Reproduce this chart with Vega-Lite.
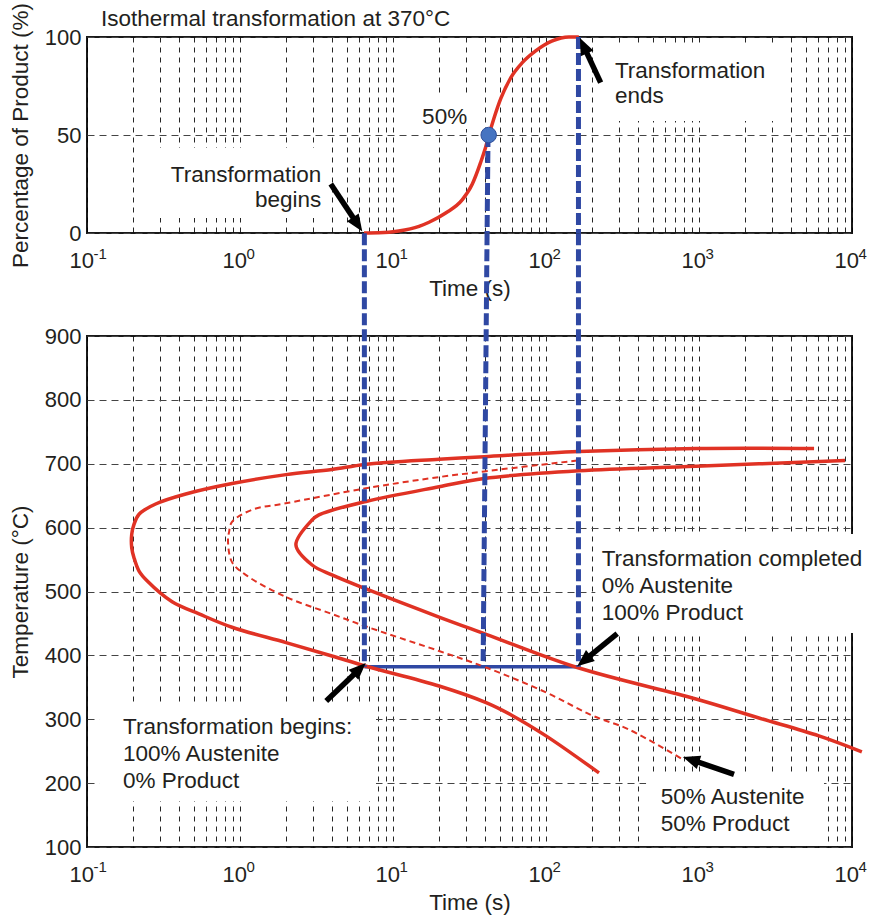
{
  "$schema": "https://vega.github.io/schema/vega-lite/v6.json",
  "background": "white",
  "padding": {"left": 8, "top": 1, "right": 0, "bottom": 5},
  "bounds": "flush",
  "spacing": 103,
  "config": {
    "font": "Liberation Sans",
    "view": {"stroke": "#1a1a1a", "strokeWidth": 2},
    "axis": {
      "labelFontSize": 22, "titleFontSize": 22.5, "labelColor": "#231f20", "titleColor": "#231f20",
      "titleFontWeight": "normal", "grid": true, "ticks": false, "domain": false,
      "labelFlush": false, "labelOverlap": false, "labelBound": false
    },
    "axisX": {"gridDash": [5, 5], "gridColor": "#000", "gridOpacity": 0.85, "gridWidth": 1, "labelPadding": 17, "titlePadding": 6, "labelAlign": "right", "labelOffset": 6.5},
    "axisY": {"gridDash": [7, 5], "gridColor": "#444", "gridWidth": 1, "labelPadding": 6, "titlePadding": 12}
  },
  "datasets": {
    "pct": [
      {"i": 0, "t": 6.46, "v": 0}, {"i": 1, "t": 8.1, "v": 0.1}, {"i": 2, "t": 10.9, "v": 1},
      {"i": 3, "t": 14.8, "v": 3.4}, {"i": 4, "t": 17.2, "v": 5.5}, {"i": 5, "t": 22.1, "v": 10.2},
      {"i": 6, "t": 28.4, "v": 17}, {"i": 7, "t": 33.0, "v": 25}, {"i": 8, "t": 37.4, "v": 36},
      {"i": 9, "t": 40.4, "v": 44}, {"i": 10, "t": 42.4, "v": 50}, {"i": 11, "t": 45.7, "v": 58.5},
      {"i": 12, "t": 50.6, "v": 68.5}, {"i": 13, "t": 58.8, "v": 79.2}, {"i": 14, "t": 70.0, "v": 86.9},
      {"i": 15, "t": 85.6, "v": 92.9}, {"i": 16, "t": 110, "v": 98}, {"i": 17, "t": 141, "v": 100},
      {"i": 18, "t": 164, "v": 100}
    ],
    "ttt": [
      {"curve": "start", "i": 0, "t": 5650, "v": 724}, {"curve": "start", "i": 1, "t": 955, "v": 724},
      {"curve": "start", "i": 2, "t": 164, "v": 719}, {"curve": "start", "i": 3, "t": 39.4, "v": 711},
      {"curve": "start", "i": 4, "t": 20, "v": 707}, {"curve": "start", "i": 5, "t": 6.53, "v": 699},
      {"curve": "start", "i": 6, "t": 3.99, "v": 691}, {"curve": "start", "i": 7, "t": 2.0, "v": 683},
      {"curve": "start", "i": 8, "t": 0.887, "v": 669}, {"curve": "start", "i": 9, "t": 0.442, "v": 652.6},
      {"curve": "start", "i": 10, "t": 0.281, "v": 637}, {"curve": "start", "i": 11, "t": 0.2188, "v": 621},
      {"curve": "start", "i": 12, "t": 0.2028, "v": 605}, {"curve": "start", "i": 13, "t": 0.196, "v": 589.5},
      {"curve": "start", "i": 14, "t": 0.196, "v": 568.6}, {"curve": "start", "i": 15, "t": 0.2028, "v": 553},
      {"curve": "start", "i": 16, "t": 0.2188, "v": 532}, {"curve": "start", "i": 17, "t": 0.2478, "v": 516.4},
      {"curve": "start", "i": 18, "t": 0.36, "v": 484}, {"curve": "start", "i": 19, "t": 0.54, "v": 465},
      {"curve": "start", "i": 20, "t": 0.887, "v": 444}, {"curve": "start", "i": 21, "t": 2.0, "v": 420},
      {"curve": "start", "i": 22, "t": 3.99, "v": 399}, {"curve": "start", "i": 23, "t": 6.67, "v": 383},
      {"curve": "start", "i": 24, "t": 20, "v": 352}, {"curve": "start", "i": 25, "t": 40.6, "v": 326},
      {"curve": "start", "i": 26, "t": 60, "v": 306}, {"curve": "start", "i": 27, "t": 100, "v": 274},
      {"curve": "start", "i": 28, "t": 222, "v": 216},
      {"curve": "finish", "i": 0, "t": 9000, "v": 705}, {"curve": "finish", "i": 1, "t": 955, "v": 696},
      {"curve": "finish", "i": 2, "t": 164, "v": 689}, {"curve": "finish", "i": 3, "t": 39.4, "v": 677},
      {"curve": "finish", "i": 4, "t": 20, "v": 664}, {"curve": "finish", "i": 5, "t": 6.67, "v": 641},
      {"curve": "finish", "i": 6, "t": 3.28, "v": 620}, {"curve": "finish", "i": 7, "t": 2.96, "v": 612},
      {"curve": "finish", "i": 8, "t": 2.32, "v": 573}, {"curve": "finish", "i": 9, "t": 2.96, "v": 541.5},
      {"curve": "finish", "i": 10, "t": 3.99, "v": 526}, {"curve": "finish", "i": 11, "t": 6.67, "v": 504},
      {"curve": "finish", "i": 12, "t": 20, "v": 460}, {"curve": "finish", "i": 13, "t": 40.6, "v": 433},
      {"curve": "finish", "i": 14, "t": 160, "v": 381}, {"curve": "finish", "i": 15, "t": 955, "v": 331.7},
      {"curve": "finish", "i": 16, "t": 2466, "v": 302}, {"curve": "finish", "i": 17, "t": 6080, "v": 274},
      {"curve": "finish", "i": 18, "t": 11600, "v": 249},
      {"curve": "half", "i": 0, "t": 160, "v": 705}, {"curve": "half", "i": 1, "t": 39.4, "v": 688},
      {"curve": "half", "i": 2, "t": 17.2, "v": 677}, {"curve": "half", "i": 3, "t": 6.64, "v": 661.5},
      {"curve": "half", "i": 4, "t": 1.99, "v": 638}, {"curve": "half", "i": 5, "t": 1.2, "v": 628},
      {"curve": "half", "i": 6, "t": 0.887, "v": 609}, {"curve": "half", "i": 7, "t": 0.848, "v": 593},
      {"curve": "half", "i": 8, "t": 0.835, "v": 578}, {"curve": "half", "i": 9, "t": 0.887, "v": 546},
      {"curve": "half", "i": 10, "t": 1.09, "v": 526}, {"curve": "half", "i": 11, "t": 2.0, "v": 491.4},
      {"curve": "half", "i": 12, "t": 3.99, "v": 464.8}, {"curve": "half", "i": 13, "t": 6.67, "v": 445.2},
      {"curve": "half", "i": 14, "t": 20, "v": 406.9}, {"curve": "half", "i": 15, "t": 40.6, "v": 381},
      {"curve": "half", "i": 16, "t": 100, "v": 342}, {"curve": "half", "i": 17, "t": 200, "v": 306},
      {"curve": "half", "i": 18, "t": 348, "v": 284}, {"curve": "half", "i": 19, "t": 798, "v": 236}
    ],
    "topBoxes": [
      {"t": 0.254, "t2": 3.67, "v": 43.4, "v2": 7.7},
      {"t": 14.4, "t2": 31.4, "v": 70.9, "v2": 53.1},
      {"t": 251, "t2": 3090, "v": 95.4, "v2": 57.1}
    ],
    "bottomBoxes": [
      {"t": 0.12, "t2": 7.74, "v": 325, "v2": 172},
      {"t": 210, "t2": 13500, "v": 590, "v2": 435},
      {"t": 451, "t2": 6560, "v": 213, "v2": 103}
    ],
    "topBlue": [
      {"t": 41.8, "v": 50, "t2": 41.2, "v2": 0},
      {"t": 163, "v": 100, "t2": 163, "v2": 0}
    ],
    "bottomBlue": [
      {"t": 6.5, "v": 1061, "t2": 6.5, "v2": 382},
      {"t": 41.2, "v": 1061, "t2": 38.8, "v2": 382},
      {"t": 163, "v": 1061, "t2": 163, "v2": 382}
    ],
    "hold": [{"t": 6.5, "v": 382, "t2": 163, "v2": 382}],
    "dot": [{"t": 42.2, "v": 50}],
    "heading": [{"t": 0.1235, "v": 105.6, "label": "Isothermal transformation at 370°C"}],
    "topExp": [
      {"t": 0.1, "v": 0, "label": "-1"}, {"t": 1, "v": 0, "label": "0"}, {"t": 10, "v": 0, "label": "1"},
      {"t": 100, "v": 0, "label": "2"}, {"t": 1000, "v": 0, "label": "3"}, {"t": 10000, "v": 0, "label": "4"}
    ],
    "bottomExp": [
      {"t": 0.1, "v": 100, "label": "-1"}, {"t": 1, "v": 100, "label": "0"}, {"t": 10, "v": 100, "label": "1"},
      {"t": 100, "v": 100, "label": "2"}, {"t": 1000, "v": 100, "label": "3"}, {"t": 10000, "v": 100, "label": "4"}
    ],
    "topArrows": [
      {"t": 6.3, "v": 0.8, "t2": 3.92, "v2": 25.0},
      {"t": 166.6, "v": 99.5, "t2": 227.6, "v2": 76.7}
    ],
    "bottomArrows": [
      {"t": 6.64, "v": 388, "t2": 3.66, "v2": 328.6},
      {"t": 160, "v": 383, "t2": 292, "v2": 434},
      {"t": 785, "v": 241, "t2": 1694, "v2": 213.8}
    ],
    "topTextR": [{"t": 3.4, "v": 26.0, "label": "Transformation\nbegins"}],
    "topTextL": [
      {"t": 15.5, "v": 55.6, "label": "50%"},
      {"t": 282, "v": 79.2, "label": "Transformation\nends"}
    ],
    "bottomText": [
      {"t": 231, "v": 540, "label": "Transformation completed\n0% Austenite\n100% Product"},
      {"t": 0.172, "v": 277, "label": "Transformation begins:\n100% Austenite\n0% Product"},
      {"t": 562, "v": 167, "label": "50% Austenite\n50% Product"}
    ]
  },
  "vconcat": [
    {
      "width": 765,
      "height": 196,
      "encoding": {
        "x": {"field": "t", "type": "quantitative",
          "scale": {"type": "log", "domain": [0.1, 10000], "nice": false},
          "axis": {"title": "Time (s)",
            "values": [0.1,0.2,0.3,0.4,0.5,0.6,0.7,0.8,0.9,1,2,3,4,5,6,7,8,9,10,20,30,40,50,60,70,80,90,100,200,300,400,500,600,700,800,900,1000,2000,3000,4000,5000,6000,7000,8000,9000,10000],
            "labelExpr": "abs(log(datum.value)/LN10 - round(log(datum.value)/LN10)) < 0.001 ? '10' : ''"}},
        "y": {"field": "v", "type": "quantitative",
          "scale": {"domain": [0, 100], "nice": false, "zero": false},
          "axis": {"title": "Percentage of Product (%)", "values": [0, 50, 100]}}
      },
      "layer": [
        {"data": {"name": "topBoxes"}, "mark": {"type": "rect", "color": "white", "clip": false},
         "encoding": {"x2": {"field": "t2"}, "y2": {"field": "v2"}}},
        {"data": {"name": "heading"}, "mark": {"type": "text", "align": "left", "baseline": "alphabetic", "fontSize": 22.5, "color": "#231f20", "clip": false},
         "encoding": {"text": {"field": "label"}}},
        {"data": {"name": "topExp"}, "mark": {"type": "text", "align": "left", "baseline": "alphabetic", "fontSize": 15, "dx": 6.5, "dy": 26, "color": "#231f20", "clip": false},
         "encoding": {"text": {"field": "label"}}},
        {"data": {"name": "pct"}, "mark": {"type": "line", "color": "#e03224", "strokeWidth": 3.5, "interpolate": "monotone", "clip": false},
         "encoding": {"order": {"field": "i", "type": "quantitative"}}},
        {"data": {"name": "topBlue"}, "mark": {"type": "rule", "color": "#2f48a3", "strokeWidth": 5, "strokeDash": [12, 4], "clip": false},
         "encoding": {"x2": {"field": "t2"}, "y2": {"field": "v2"}}},
        {"data": {"name": "dot"}, "mark": {"type": "point", "filled": true, "size": 240, "color": "#4674c1", "stroke": "#2f4f9a", "strokeWidth": 1, "opacity": 1}},
        {"data": {"name": "topArrows"},
         "transform": [
           {"calculate": "153*(log(datum.t)-log(datum.t2))/LN10", "as": "dx"},
           {"calculate": "-1.96*(datum.v-datum.v2)", "as": "dy"},
           {"calculate": "1 - 10/sqrt(datum.dx*datum.dx+datum.dy*datum.dy)", "as": "f"},
           {"calculate": "datum.t2*pow(datum.t/datum.t2, datum.f)", "as": "te"},
           {"calculate": "datum.v2 + datum.f*(datum.v-datum.v2)", "as": "ve"},
           {"calculate": "datum.te", "as": "t"},
           {"calculate": "datum.ve", "as": "v"}
         ],
         "mark": {"type": "rule", "color": "#000", "strokeWidth": 5.5, "strokeCap": "butt", "clip": false},
         "encoding": {"x2": {"field": "t2"}, "y2": {"field": "v2"}}},
        {"data": {"name": "topArrows"},
         "transform": [
           {"calculate": "153*(log(datum.t)-log(datum.t2))/LN10", "as": "dx"},
           {"calculate": "-1.96*(datum.v-datum.v2)", "as": "dy"},
           {"calculate": "atan2(datum.dy, datum.dx)*180/PI + 90", "as": "ang"}
         ],
         "mark": {"type": "point", "shape": "M0,0L0.41,1L-0.41,1Z", "filled": true, "size": 1156, "color": "#000", "opacity": 1, "clip": false},
         "encoding": {"angle": {"field": "ang", "type": "quantitative", "scale": null}}},
        {"data": {"name": "topTextR"}, "mark": {"type": "text", "align": "right", "baseline": "alphabetic", "fontSize": 22.5, "lineHeight": 25, "lineBreak": "\n", "color": "#231f20", "clip": false},
         "encoding": {"text": {"field": "label"}}},
        {"data": {"name": "topTextL"}, "mark": {"type": "text", "align": "left", "baseline": "alphabetic", "fontSize": 22.5, "lineHeight": 25.5, "lineBreak": "\n", "color": "#231f20", "clip": false},
         "encoding": {"text": {"field": "label"}}}
      ]
    },
    {
      "width": 765,
      "height": 511,
      "encoding": {
        "x": {"field": "t", "type": "quantitative",
          "scale": {"type": "log", "domain": [0.1, 10000], "nice": false},
          "axis": {"title": "Time (s)",
            "values": [0.1,0.2,0.3,0.4,0.5,0.6,0.7,0.8,0.9,1,2,3,4,5,6,7,8,9,10,20,30,40,50,60,70,80,90,100,200,300,400,500,600,700,800,900,1000,2000,3000,4000,5000,6000,7000,8000,9000,10000],
            "labelExpr": "abs(log(datum.value)/LN10 - round(log(datum.value)/LN10)) < 0.001 ? '10' : ''"}},
        "y": {"field": "v", "type": "quantitative",
          "scale": {"domain": [100, 900], "nice": false, "zero": false},
          "axis": {"title": "Temperature (°C)", "values": [100, 200, 300, 400, 500, 600, 700, 800, 900]}}
      },
      "layer": [
        {"data": {"name": "bottomBoxes"}, "mark": {"type": "rect", "color": "white", "clip": false},
         "encoding": {"x2": {"field": "t2"}, "y2": {"field": "v2"}}},
        {"data": {"name": "bottomExp"}, "mark": {"type": "text", "align": "left", "baseline": "alphabetic", "fontSize": 15, "dx": 6.5, "dy": 24.5, "color": "#231f20", "clip": false},
         "encoding": {"text": {"field": "label"}}},
        {"data": {"name": "hold"}, "mark": {"type": "rule", "color": "#2f48a3", "strokeWidth": 3.5, "clip": false},
         "encoding": {"x2": {"field": "t2"}, "y2": {"field": "v2"}}},
        {"data": {"name": "ttt"}, "transform": [{"filter": "datum.curve != 'half'"}],
         "mark": {"type": "line", "color": "#e03224", "strokeWidth": 3.5, "interpolate": "catmull-rom", "clip": false},
         "encoding": {"detail": {"field": "curve"}, "order": {"field": "i", "type": "quantitative"}}},
        {"data": {"name": "ttt"}, "transform": [{"filter": "datum.curve == 'half'"}],
         "mark": {"type": "line", "color": "#e03224", "strokeWidth": 2, "strokeDash": [6, 4], "interpolate": "catmull-rom", "clip": false},
         "encoding": {"order": {"field": "i", "type": "quantitative"}}},
        {"data": {"name": "bottomBlue"}, "mark": {"type": "rule", "color": "#2f48a3", "strokeWidth": 5, "strokeDash": [12, 4], "clip": false},
         "encoding": {"x2": {"field": "t2"}, "y2": {"field": "v2"}}},
        {"data": {"name": "bottomArrows"},
         "transform": [
           {"calculate": "153*(log(datum.t)-log(datum.t2))/LN10", "as": "dx"},
           {"calculate": "-0.63875*(datum.v-datum.v2)", "as": "dy"},
           {"calculate": "1 - 10/sqrt(datum.dx*datum.dx+datum.dy*datum.dy)", "as": "f"},
           {"calculate": "datum.t2*pow(datum.t/datum.t2, datum.f)", "as": "te"},
           {"calculate": "datum.v2 + datum.f*(datum.v-datum.v2)", "as": "ve"},
           {"calculate": "datum.te", "as": "t"},
           {"calculate": "datum.ve", "as": "v"}
         ],
         "mark": {"type": "rule", "color": "#000", "strokeWidth": 5.5, "strokeCap": "butt", "clip": false},
         "encoding": {"x2": {"field": "t2"}, "y2": {"field": "v2"}}},
        {"data": {"name": "bottomArrows"},
         "transform": [
           {"calculate": "153*(log(datum.t)-log(datum.t2))/LN10", "as": "dx"},
           {"calculate": "-0.63875*(datum.v-datum.v2)", "as": "dy"},
           {"calculate": "atan2(datum.dy, datum.dx)*180/PI + 90", "as": "ang"}
         ],
         "mark": {"type": "point", "shape": "M0,0L0.41,1L-0.41,1Z", "filled": true, "size": 1156, "color": "#000", "opacity": 1, "clip": false},
         "encoding": {"angle": {"field": "ang", "type": "quantitative", "scale": null}}},
        {"data": {"name": "bottomText"}, "mark": {"type": "text", "align": "left", "baseline": "alphabetic", "fontSize": 22.5, "lineHeight": 27, "lineBreak": "\n", "color": "#231f20", "clip": false},
         "encoding": {"text": {"field": "label"}}}
      ]
    }
  ]
}
